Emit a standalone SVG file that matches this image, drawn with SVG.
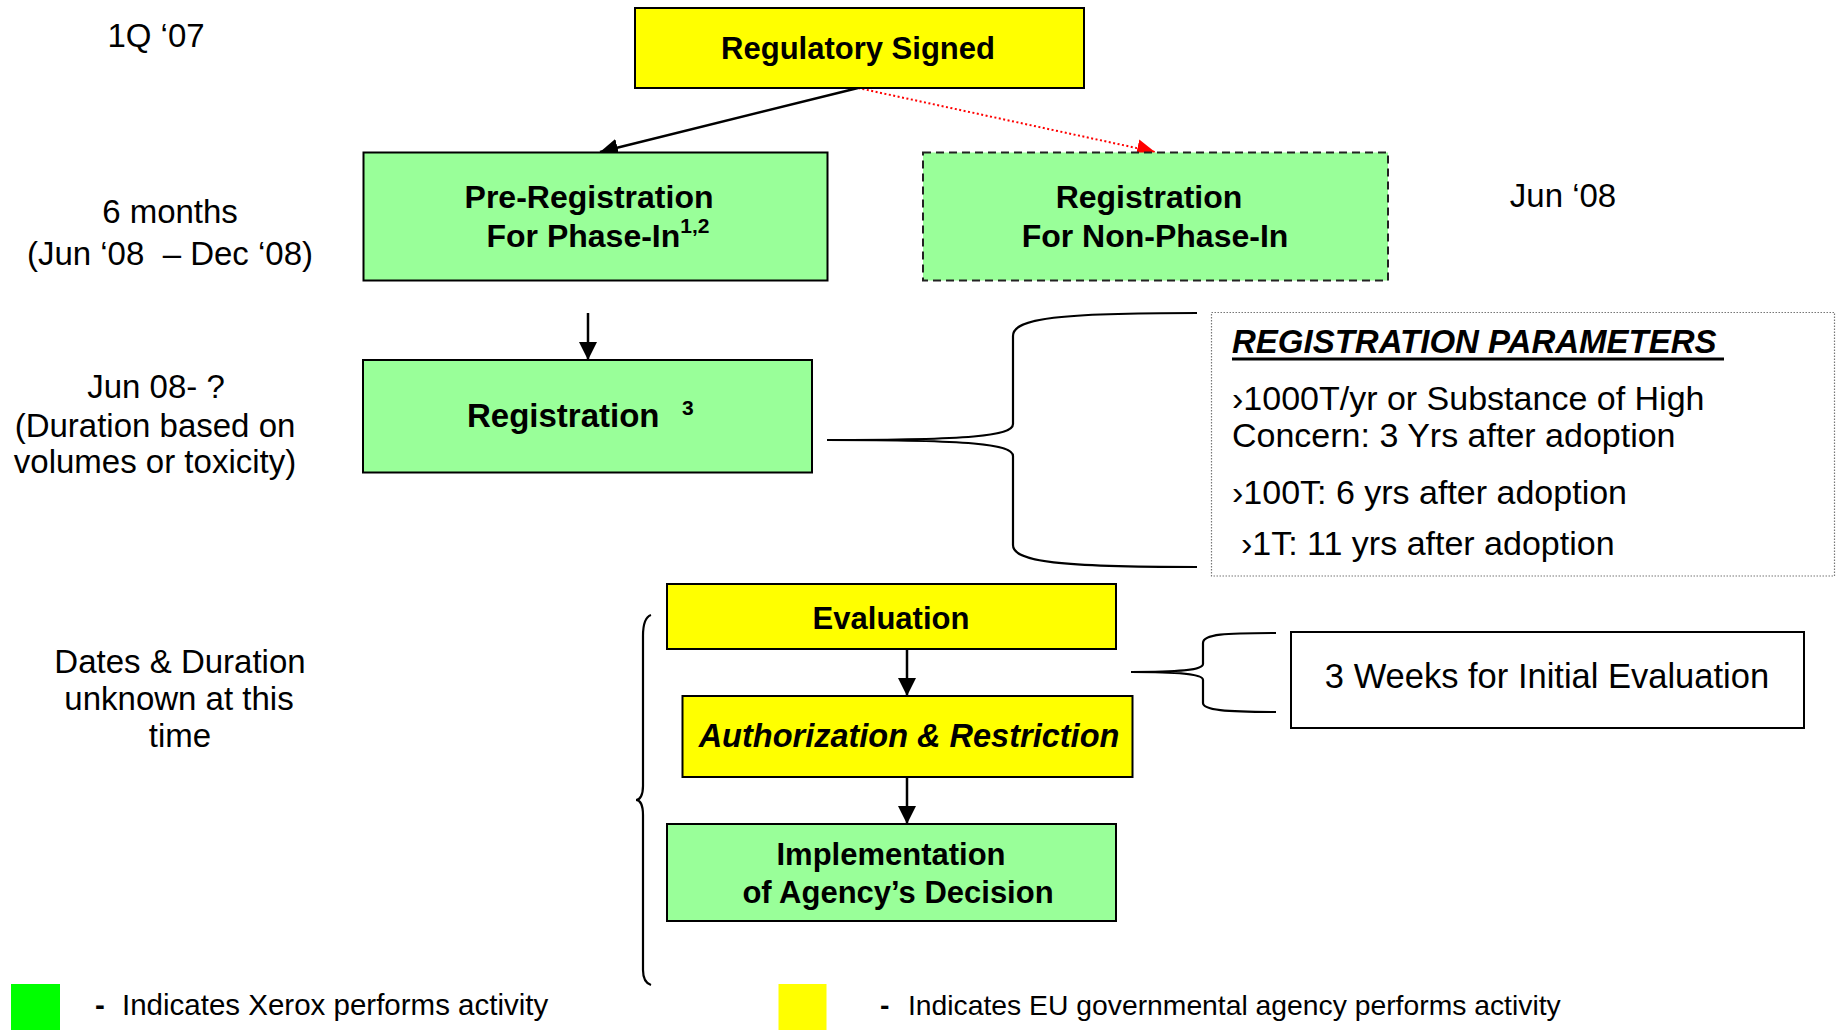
<svg xmlns="http://www.w3.org/2000/svg" width="1839" height="1030" viewBox="0 0 1839 1030">
<style>
text{font-family:"Liberation Sans",Arial,sans-serif;fill:#000}
.b{font-weight:bold}
.bi{font-weight:bold;font-style:italic}
.m{text-anchor:middle}
.lbl{font-size:33px}
.bx{font-size:32px;font-weight:bold}
.p{font-size:34px}
.lg{font-size:29.5px}
.lg2{font-size:28.3px}
.g{fill:#99FF99;stroke:#000;stroke-width:2}
.y{fill:#FFFF00;stroke:#000;stroke-width:2}
.conn{fill:none;stroke:#000;stroke-width:2.5}
.brace{fill:none;stroke:#000;stroke-width:2.2}
</style>
<defs>
<marker id="ab" markerUnits="userSpaceOnUse" markerWidth="20" markerHeight="18" refX="18" refY="9" orient="auto"><path d="M0,0 L18,9 L0,18 Z" fill="#000"/></marker>
<marker id="ar" markerUnits="userSpaceOnUse" markerWidth="20" markerHeight="18" refX="18" refY="9" orient="auto"><path d="M0,0 L18,9 L0,18 Z" fill="#FF0000"/></marker>
</defs>
<rect width="1839" height="1030" fill="#fff"/>

<g id="labels">
<text class="lbl m" x="156" y="47">1Q ‘07</text>
<text class="lbl m" x="170" y="223">6 months</text>
<text class="lbl m" x="170" y="265" xml:space="preserve">(Jun ‘08  – Dec ‘08)</text>
<text class="lbl m" x="156" y="398">Jun 08- ?</text>
<text class="lbl m" x="155" y="437">(Duration based on</text>
<text class="lbl m" x="155" y="473">volumes or toxicity)</text>
<text class="lbl m" x="180" y="673">Dates &amp; Duration</text>
<text class="lbl m" x="179" y="710">unknown at this</text>
<text class="lbl m" x="180" y="747">time</text>
<text class="lbl m" x="1563" y="207">Jun ‘08</text>
</g>

<g id="connectors">
<line class="conn" x1="858" y1="88" x2="600" y2="152" stroke-width="2" marker-end="url(#ab)"/>
<line x1="858" y1="88" x2="1155" y2="152" stroke="#FF0000" stroke-width="2" stroke-dasharray="2,2.5" marker-end="url(#ar)"/>
<line class="conn" x1="588" y1="313" x2="588" y2="360" stroke-width="3" marker-end="url(#ab)"/>
<line class="conn" x1="907" y1="649" x2="907" y2="696" stroke-width="3" marker-end="url(#ab)"/>
<line class="conn" x1="907" y1="777" x2="907" y2="824" stroke-width="3" marker-end="url(#ab)"/>
</g>

<g id="braces">
<path class="brace" d="M1197,313 C1060,313 1013,318 1013,336 L1013,424 C1013,436 970,440 827,440 C970,440 1013,444 1013,456 L1013,545 C1013,562 1060,567 1197,567"/>
<path class="brace" d="M1276,633 C1225,633 1203,634 1203,643 L1203,664 C1203,670 1180,672 1131,672 C1180,672 1203,674 1203,680 L1203,703 C1203,710 1225,712 1276,712"/>
<path class="brace" d="M651,615 C645,617 643,625 643,636 L643,786 C643,795 640,800 636,800 C640,800 643,805 643,815 L643,970 C643,978 645,983 651,985"/>
</g>

<g id="node-regulatory">
<rect class="y" x="635" y="8" width="449" height="80"/>
<text class="b m" x="858" y="59" font-size="31">Regulatory Signed</text>
</g>

<g id="node-preregistration">
<rect class="g" x="363.5" y="152.5" width="464" height="128"/>
<text class="bx m" x="589" y="208">Pre-Registration</text>
<text class="bx m" x="598" y="247">For Phase-In<tspan font-size="21" dy="-14">1,2</tspan></text>
</g>

<g id="node-nonphasein">
<rect x="923" y="152.5" width="465" height="128" fill="#99FF99" stroke="#222" stroke-width="2" stroke-dasharray="8,5"/>
<text class="bx m" x="1149" y="208">Registration</text>
<text class="bx m" x="1155" y="247">For Non-Phase-In</text>
</g>

<g id="node-registration">
<rect class="g" x="363" y="360" width="449" height="112.5"/>
<text class="b" x="467" y="427" font-size="33">Registration<tspan x="682" dy="-12" font-size="21">3</tspan></text>
</g>

<g id="node-parameters">
<rect x="1211.5" y="312.5" width="623" height="263.5" fill="#fff" stroke="#777" stroke-width="1.2" stroke-dasharray="1.5,1.5"/>
<text class="bi" x="1232" y="353" font-size="33">REGISTRATION PARAMETERS</text>
<line x1="1232" y1="359" x2="1724" y2="359" stroke="#000" stroke-width="3"/>
<text class="p" x="1232" y="410">›1000T/yr or Substance of High</text>
<text class="p" x="1232" y="447">Concern: 3 Yrs after adoption</text>
<text class="p" x="1232" y="504">›100T: 6 yrs after adoption</text>
<text class="p" x="1241" y="555">›1T: 11 yrs after adoption</text>
</g>

<g id="node-evaluation">
<rect class="y" x="667" y="584" width="449" height="65"/>
<text class="b m" x="891" y="629" font-size="31">Evaluation</text>
</g>

<g id="node-weeks">
<rect x="1291" y="632" width="513" height="96" fill="#fff" stroke="#000" stroke-width="2"/>
<text class="m" x="1547" y="688" font-size="34.5">3 Weeks for Initial Evaluation</text>
</g>

<g id="node-authorization">
<rect class="y" x="682.5" y="696" width="450" height="81"/>
<text class="bi m" x="909" y="747" font-size="32.5">Authorization &amp; Restriction</text>
</g>

<g id="node-implementation">
<rect class="g" x="667" y="824" width="449" height="97"/>
<text class="b m" x="891" y="865" font-size="31">Implementation</text>
<text class="b m" x="898" y="903" font-size="31">of Agency’s Decision</text>
</g>

<g id="legend">
<rect x="11" y="984" width="49" height="46" fill="#00FF00"/>
<text class="lg" x="95" y="1015"><tspan class="b">-</tspan><tspan x="122">Indicates Xerox performs activity</tspan></text>
<rect x="778.5" y="984" width="48" height="46" fill="#FFFF00"/>
<text class="lg2" x="880" y="1015"><tspan class="b">-</tspan><tspan x="908">Indicates EU governmental agency performs activity</tspan></text>
</g>
</svg>
